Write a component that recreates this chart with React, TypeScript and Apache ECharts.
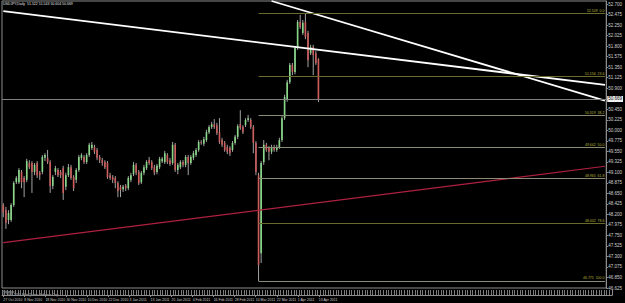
import React, { useEffect, useRef } from "react";
import * as echarts from "echarts";

const symbolTitle = "USDJPY,Daily";
const firstDate = [2010, 9, 27]; // 27 Oct 2010
const totalSlots = 232; // bars + chart shift space
const labelEvery = 8;

const opens = [
  48.40, 48.29, 48.08, 48.08, 48.40, 48.89, 48.89, 49.11, 48.98, 48.94,
  49.30, 49.30, 49.11, 49.30, 49.09, 49.11, 49.41, 49.41, 49.32, 48.81,
  49.11, 49.15, 49.11, 49.19, 48.79, 49.04, 49.21, 49.00, 48.94, 49.15,
  49.41, 49.43, 49.32, 49.47, 49.62, 49.64, 49.58, 49.43, 49.36, 49.32,
  49.30, 49.04, 49.00, 48.98, 48.87, 48.79, 48.74, 48.81, 48.76, 48.94,
  49.06, 49.26, 49.11, 48.89, 49.09, 49.19, 49.36, 49.32, 49.21, 49.11,
  49.21, 49.34, 49.32, 49.47, 49.36, 49.30, 49.69, 49.15, 49.21, 49.32,
  49.26, 49.43, 49.30, 49.41, 49.47, 49.58, 49.75, 49.71, 49.79, 49.96,
  50.07, 50.13, 50.11, 49.96, 49.79, 49.73, 49.64, 49.62, 49.58, 49.73,
  49.86, 50.13, 50.07, 50.11, 50.22, 50.22, 50.07, 49.73, 49.04, 47.37,
  49.32, 49.69, 49.62, 49.54, 49.64, 49.58, 49.64, 49.79, 50.26, 50.65,
  51.03, 51.40, 51.25, 51.76, 52.32, 52.08, 52.32, 52.08, 51.65, 51.78,
  51.65, 51.522,
];
const highs = [
  48.44, 48.36, 48.29, 48.44, 48.91, 49.02, 49.19, 49.15, 49.02, 49.39,
  49.36, 49.34, 49.30, 49.34, 49.13, 49.47, 49.51, 49.58, 49.36, 49.04,
  49.24, 49.19, 49.15, 49.24, 49.09, 49.28, 49.26, 49.04, 49.19, 49.47,
  49.51, 49.47, 49.51, 49.73, 49.75, 49.69, 49.62, 49.47, 49.41, 49.36,
  49.34, 49.09, 49.04, 49.02, 48.91, 48.83, 48.83, 48.85, 49.02, 49.09,
  49.32, 49.30, 49.15, 49.13, 49.26, 49.36, 49.43, 49.36, 49.26, 49.28,
  49.43, 49.43, 49.56, 49.51, 49.41, 49.75, 49.73, 49.30, 49.36, 49.36,
  49.47, 49.47, 49.47, 49.56, 49.62, 49.79, 49.79, 49.86, 50.01, 50.11,
  50.18, 50.24, 50.16, 50.26, 49.84, 49.77, 49.69, 49.66, 49.77, 49.90,
  50.13, 50.43, 50.11, 50.26, 50.33, 50.26, 50.11, 49.77, 49.09, 49.34,
  49.79, 49.73, 49.66, 49.69, 49.69, 49.69, 49.84, 50.30, 50.76, 51.08,
  51.44, 51.44, 51.80, 52.36, 52.47, 52.36, 52.509, 52.13, 51.83, 51.83,
  51.70, 51.543,
];
const lows = [
  48.14, 47.89, 47.99, 48.04, 48.36, 48.85, 48.85, 48.76, 48.57, 48.89,
  49.17, 48.66, 49.04, 48.98, 48.94, 49.06, 49.34, 49.28, 48.66, 48.74,
  49.04, 49.00, 48.98, 48.51, 48.72, 49.00, 48.94, 48.70, 48.87, 49.11,
  49.36, 49.28, 49.28, 49.43, 49.58, 49.49, 49.36, 49.30, 49.24, 49.17,
  48.96, 48.94, 48.87, 48.76, 48.57, 48.57, 48.68, 48.70, 48.72, 48.89,
  49.02, 49.04, 48.83, 48.85, 49.04, 49.15, 49.26, 49.15, 49.04, 49.06,
  49.17, 49.30, 49.28, 49.28, 49.24, 49.26, 49.11, 49.06, 49.17, 49.21,
  49.21, 49.04, 49.26, 49.36, 49.43, 49.54, 49.69, 49.66, 49.75, 49.92,
  50.03, 50.03, 49.90, 49.71, 49.64, 49.54, 49.49, 49.45, 49.54, 49.69,
  49.81, 50.01, 49.92, 50.07, 50.18, 50.03, 49.51, 49.04, 46.775, 47.16,
  49.26, 49.54, 49.36, 49.49, 49.54, 49.54, 49.60, 49.75, 50.22, 50.61,
  50.99, 51.18, 51.20, 51.72, 52.17, 52.04, 51.95, 51.35, 51.61, 51.18,
  51.40, 50.604,
];
const closes = [
  48.25, 48.02, 48.23, 48.40, 48.87, 48.98, 49.15, 48.89, 48.89, 49.34,
  49.21, 49.11, 49.26, 49.04, 49.04, 49.43, 49.47, 49.32, 48.81, 49.00,
  49.19, 49.04, 49.04, 48.66, 49.04, 49.21, 48.98, 48.76, 49.15, 49.43,
  49.47, 49.32, 49.47, 49.69, 49.69, 49.54, 49.41, 49.36, 49.30, 49.21,
  49.00, 48.98, 48.94, 48.87, 48.70, 48.72, 48.79, 48.76, 48.98, 49.04,
  49.26, 49.09, 48.87, 49.09, 49.21, 49.32, 49.30, 49.19, 49.09, 49.24,
  49.39, 49.39, 49.51, 49.32, 49.28, 49.69, 49.15, 49.26, 49.32, 49.26,
  49.43, 49.30, 49.43, 49.51, 49.58, 49.75, 49.73, 49.81, 49.96, 50.07,
  50.13, 50.07, 49.94, 49.75, 49.69, 49.58, 49.54, 49.51, 49.73, 49.86,
  50.09, 50.05, 49.96, 50.22, 50.26, 50.07, 49.73, 49.11, 47.12, 49.30,
  49.69, 49.58, 49.54, 49.64, 49.58, 49.64, 49.79, 50.26, 50.71, 51.03,
  51.40, 51.25, 51.76, 52.32, 52.21, 52.30, 52.00, 51.50, 51.78, 51.61,
  51.44, 50.669,
];

// price scale (right axis)
const priceMin = 46.625;
const priceMax = 52.767;
const priceStep = 0.225;

// Fibonacci retracement
const fibLevels = [0, 23.6, 38.2, 50, 61.8, 78.6, 100];
const fibHigh = 52.509;
const fibLow = 46.775;
const fibStartIndex = 98;

// trend lines: [startIndex, startPrice, endIndex, endPrice]
const trendWhite1 = [0, 52.549, 231, 50.972];
const trendWhite2 = [103, 52.767, 231, 50.635];
const trendRed = [0, 47.596, 231, 49.231];

const MONTHS = ["Jan", "Feb", "Mar", "Apr", "May", "Jun", "Jul", "Aug", "Sep", "Oct", "Nov", "Dec"];

function buildDates(n: number): string[] {
  const out: string[] = [];
  const d = new Date(Date.UTC(firstDate[0], firstDate[1], firstDate[2]));
  while (out.length < n) {
    const wd = d.getUTCDay();
    if (wd !== 0 && wd !== 6) {
      out.push(`${d.getUTCDate()} ${MONTHS[d.getUTCMonth()]} ${d.getUTCFullYear()}`);
    }
    d.setUTCDate(d.getUTCDate() + 1);
  }
  return out;
}

export default function App() {
  const ref = useRef<HTMLDivElement>(null);

  useEffect(() => {
    if (!ref.current) return;
    const chart = echarts.init(ref.current, undefined, { renderer: "svg" });
    const nBars = opens.length;
    const dates = buildDates(nBars);
    const cats: string[] = [];
    for (let i = 0; i < totalSlots; i++) cats.push(i < nBars ? dates[i] : `~${i}`);
    const last = nBars - 1;
    const showLabel = (i: number) => i % labelEvery === 0 && i < nBars;

    const candleData = opens.map((o, i) => [i, o, closes[i], lows[i], highs[i]]);

    const fibColors: Record<string, string> = {
      "0": "#6a6a2c",
      "23.6": "#6a6a2c",
      "38.2": "#8c8c76",
      "50": "#8c8c76",
      "61.8": "#8c8c76",
      "78.6": "#6a6a2c",
      "100": "#8c8c76",
    };

    const fibMarks = fibLevels.map((lv) => {
      const price = fibHigh - ((fibHigh - fibLow) * lv) / 100;
      return [
        {
          coord: [fibStartIndex, price],
          lineStyle: { color: fibColors[String(lv)], width: 1, type: "solid" },
          label: {
            show: true,
            position: "insideEndTop",
            formatter: `${price.toFixed(3)}  ${lv.toFixed(1)}`,
            color: "#b6b63c",
            fontSize: 3.5,
            distance: 0.5,
          },
        },
        { coord: [totalSlots - 1, price] },
      ];
    });

    const trend = (t: number[], color: string, width: number) => ({
      type: "line",
      xAxisIndex: 0,
      yAxisIndex: 0,
      data: [
        [t[0], t[1]],
        [t[2], t[3]],
      ],
      symbol: "none",
      silent: true,
      lineStyle: { color, width },
      z: 4,
    });

    const titleText = `${symbolTitle}  ${opens[last].toFixed(3)} ${highs[last].toFixed(3)} ${lows[last].toFixed(3)} ${closes[last].toFixed(3)}`;

    chart.setOption({
      animation: false,
      backgroundColor: "#000000",
      textStyle: { fontFamily: "Liberation Sans, Arial, sans-serif" },
      grid: [
        { left: 2, right: 13, top: 1, bottom: 15, show: true, borderColor: "#8c8c8c", borderWidth: 1, backgroundColor: "transparent" },
        { left: 2, right: 13, top: 290, bottom: 8 },
      ],
      xAxis: [
        {
          type: "category",
          gridIndex: 0,
          data: cats,
          boundaryGap: true,
          axisLine: { show: false },
          axisTick: { show: false },
          axisLabel: { show: false },
          splitLine: { show: false },
        },
        {
          type: "category",
          gridIndex: 1,
          data: cats,
          boundaryGap: true,
          offset: 2,
          axisLine: { show: true, lineStyle: { color: "#8c8c8c", width: 1 } },
          axisTick: { show: true, interval: (i: number) => showLabel(i), alignWithLabel: true, length: 2, lineStyle: { color: "#8c8c8c" } },
          axisLabel: {
            show: true,
            interval: (i: number) => showLabel(i),
            formatter: (v: string, i: number) => (i < nBars ? v : ""),
            fontSize: 3.5,
            color: "#c8c8c8",
            margin: 1,
            align: "left",
          },
          splitLine: { show: true, interval: 0, lineStyle: { color: "#7c7c7c", width: 1 } },
        },
      ],
      yAxis: [
        {
          type: "value",
          gridIndex: 0,
          position: "right",
          min: priceMin,
          max: priceMax,
          interval: priceStep,
          axisLine: { show: true, lineStyle: { color: "#8c8c8c" } },
          axisTick: { show: true, length: 2, lineStyle: { color: "#8c8c8c" } },
          axisLabel: {
            show: true,
            fontSize: 4.5,
            color: "#d0d0d0",
            margin: 2,
            showMaxLabel: false,
            formatter: (v: number) => v.toFixed(3),
          },
          splitLine: { show: false },
        },
        {
          type: "value",
          gridIndex: 1,
          position: "right",
          min: 0,
          max: 1,
          axisLine: { show: true, lineStyle: { color: "#8c8c8c" } },
          axisTick: { show: false },
          axisLabel: { show: false },
          splitLine: { show: false },
        },
      ],
      graphic: [
        { type: "text", left: 3, top: 2, silent: true, style: { text: titleText, fill: "#e6e6e6", fontSize: 3.5, fontFamily: "Liberation Sans, Arial, sans-serif" } },
        { type: "text", left: 3, top: 290, silent: true, style: { text: "Volumes", fill: "#d8d8d8", fontSize: 3, fontFamily: "Liberation Sans, Arial, sans-serif" } },
        { type: "text", left: 3, top: 293, silent: true, style: { text: "© 2001-2010, MetaQuotes Software Corp.", fill: "#d8d8d8", fontSize: 3, fontFamily: "Liberation Sans, Arial, sans-serif" } },
      ],
      series: [
        {
          type: "custom",
          name: "candles",
          xAxisIndex: 0,
          yAxisIndex: 0,
          data: candleData,
          encode: { x: 0, y: [1, 2, 3, 4] },
          clip: true,
          z: 3,
          renderItem: (params: any, api: any) => {
            const idx = api.value(0);
            const o = api.value(1);
            const c = api.value(2);
            const l = api.value(3);
            const h = api.value(4);
            const pO = api.coord([idx, o]);
            const pC = api.coord([idx, c]);
            const pL = api.coord([idx, l]);
            const pH = api.coord([idx, h]);
            const bw = api.size([1, 0])[0];
            const w = Math.max(1, bw * 0.62);
            const top = Math.min(pO[1], pC[1]);
            const hgt = Math.max(1, Math.abs(pO[1] - pC[1]));
            const bull = c >= o;
            return {
              type: "group",
              children: [
                {
                  type: "line",
                  shape: { x1: pH[0], y1: pH[1], x2: pL[0], y2: pL[1] },
                  style: { stroke: "#b4b4b4", lineWidth: 0.9 },
                },
                {
                  type: "rect",
                  shape: { x: pO[0] - w / 2, y: top, width: w, height: hgt },
                  style: { fill: bull ? "#88d888" : "#cd5c5c" },
                },
              ],
            };
          },
        },
        trend(trendWhite1, "#ffffff", 1.8),
        trend(trendWhite2, "#ffffff", 1.8),
        trend(trendRed, "#b0203f", 1.2),
        {
          type: "line",
          xAxisIndex: 0,
          yAxisIndex: 0,
          data: [],
          silent: true,
          z: 2,
          markLine: {
            symbol: ["none", "none"],
            silent: true,
            animation: false,
            data: [
              {
                yAxis: closes[last],
                lineStyle: { color: "#808080", width: 1, type: "solid" },
                label: {
                  show: true,
                  position: "end",
                  formatter: closes[last].toFixed(3),
                  backgroundColor: "#f0f0f0",
                  color: "#000000",
                  fontSize: 4.5,
                  padding: [0.5, 1],
                  distance: 1,
                },
              },
              ...fibMarks,
            ],
          },
        },
        {
          type: "line",
          xAxisIndex: 1,
          yAxisIndex: 1,
          data: [],
          silent: true,
        },
      ],
    });

    return () => chart.dispose();
  }, []);

  return <div ref={ref} style={{ position: "fixed", left: 0, top: 0, width: 625, height: 303 }} />;
}
